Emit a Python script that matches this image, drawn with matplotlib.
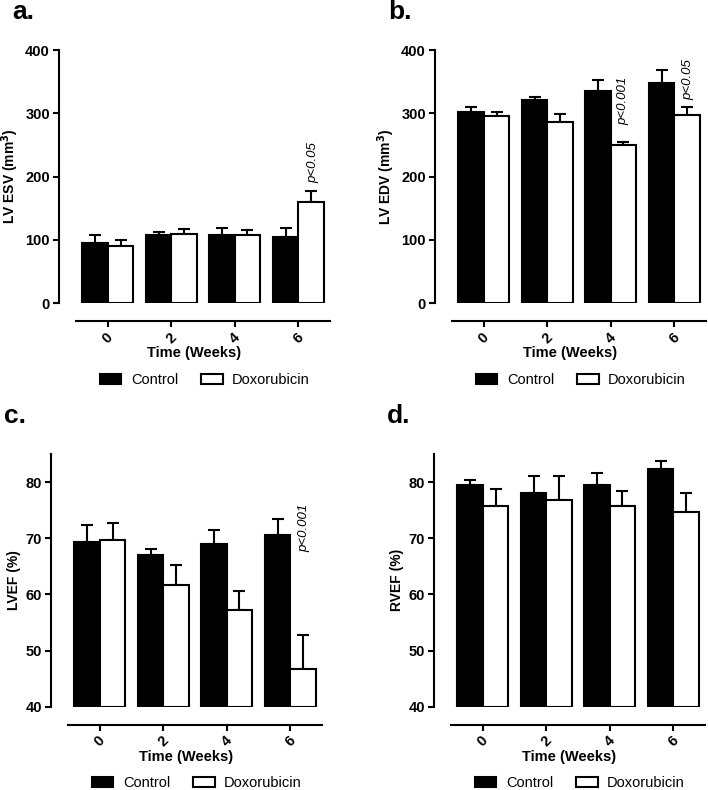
import numpy as np
import matplotlib.pyplot as plt

plt.rc('font', family=['Liberation Sans', 'DejaVu Sans'], size=10)

weeks = ['0', '2', '4', '6']
groups = ['Control', 'Doxorubicin']

esv_ctrl = [94.7, 107, 107, 105]
esv_ctrl_sem = [12.6, 5, 12, 14]
esv_dox = [89.5, 109.5, 107, 159]
esv_dox_sem = [10.5, 7.5, 8, 18]

edv_ctrl = [302, 321, 335, 348]
edv_ctrl_sem = [8, 5, 17, 21]
edv_dox = [296, 286, 250, 298]
edv_dox_sem = [5.6, 13.5, 5, 12]

lvef_ctrl = [69.3, 67.1, 68.9, 70.5]
lvef_ctrl_sem = [3.0, 0.9, 2.6, 3.0]
lvef_dox = [69.7, 61.7, 57.2, 46.8]
lvef_dox_sem = [3.0, 3.5, 3.4, 5.9]

rvef_ctrl = [79.4, 78.0, 79.4, 82.3]
rvef_ctrl_sem = [1.0, 3.0, 2.3, 1.4]
rvef_dox = [75.7, 76.8, 75.8, 74.7]
rvef_dox_sem = [3.1, 4.3, 2.6, 3.3]

fig = plt.figure(figsize=(7.08, 7.9), dpi=100)

W = 271 / 708
H_top = 253 / 790
H_bot = 252.7 / 790


def panel(rect, ctrl, csem, dox, dsem, ylim, ticks, ylabel, letter, notes, legend_y):
    ax = fig.add_axes(rect)
    x = np.arange(len(weeks))
    bw = 0.4
    ax.bar(x - bw / 2, np.array(ctrl) - ylim[0], bw, bottom=ylim[0], color='black',
           edgecolor='black', linewidth=1.5, label=groups[0], zorder=3)
    ax.bar(x + bw / 2, np.array(dox) - ylim[0], bw, bottom=ylim[0], color='white',
           edgecolor='black', linewidth=1.5, label=groups[1], zorder=3)
    z = np.zeros(len(weeks))
    ax.errorbar(x - bw / 2, ctrl, yerr=[z, csem], fmt='none', ecolor='black',
                elinewidth=1.5, capsize=4.5, capthick=1.5, zorder=2)
    ax.errorbar(x + bw / 2, dox, yerr=[z, dsem], fmt='none', ecolor='black',
                elinewidth=1.5, capsize=4.5, capthick=1.5, zorder=2)
    ax.set_xlim(-0.77, 3.5)
    ax.set_ylim(*ylim)
    ax.set_yticks(ticks)
    ax.set_xticks(x)
    ax.set_xticklabels(weeks)
    for s in ['top', 'right']:
        ax.spines[s].set_visible(False)
    ax.spines['left'].set_linewidth(1.5)
    ax.spines['bottom'].set_linewidth(1.5)
    ax.spines['bottom'].set_position(('outward', 13))
    ax.spines['bottom'].set_bounds(-0.5, 3.5)
    ax.tick_params(axis='both', width=1.5, length=4.5, pad=2)
    plt.setp(ax.get_xticklabels(), rotation=45, ha='center', va='top',
             fontweight='bold', fontsize=10.5)
    plt.setp(ax.get_yticklabels(), fontweight='bold', fontsize=10.5)
    ax.set_xlabel('Time (Weeks)', fontweight='bold', fontsize=10.5, labelpad=0)
    ax.set_ylabel(ylabel, fontweight='bold', fontsize=10, labelpad=3)
    for nx, ny, txt in notes:
        ax.text(nx, ny, txt, rotation=90, style='italic', fontsize=9.5,
                ha='center', va='bottom')
    pos = ax.get_position()
    fig.text(pos.x0 - 47 / 708, pos.y1 + (32 if letter in 'ab' else 38) / 790, letter,
             fontsize=19, fontweight='bold', va='center', ha='left')
    ax.legend(loc='center', bbox_to_anchor=(pos.x0 + 146 / 708, legend_y),
              bbox_transform=fig.transFigure, ncol=2, frameon=False,
              handlelength=1.45, handleheight=0.75, handletextpad=0.65,
              columnspacing=1.6, fontsize=10.5)
    return ax


panel([59 / 708, 1 - 303 / 790, W, H_top], esv_ctrl, esv_ctrl_sem, esv_dox, esv_dox_sem,
      (0, 400), [0, 100, 200, 300, 400], 'LV ESV (mm$^\\mathbf{3}$)', 'a.',
      [(3.23, 190, 'p<0.05')], 1 - 380 / 790)
panel([435 / 708, 1 - 303 / 790, W, H_top], edv_ctrl, edv_ctrl_sem, edv_dox, edv_dox_sem,
      (0, 400), [0, 100, 200, 300, 400], 'LV EDV (mm$^\\mathbf{3}$)', 'b.',
      [(2.19, 281, 'p<0.001'), (3.22, 321, 'p<0.05')], 1 - 380 / 790)
panel([51 / 708, 1 - 706.7 / 790, W, H_bot], lvef_ctrl, lvef_ctrl_sem, lvef_dox, lvef_dox_sem,
      (40, 85), [40, 50, 60, 70, 80], 'LVEF (%)', 'c.',
      [(3.22, 67.5, 'p<0.001')], 1 - 783 / 790)
panel([434 / 708, 1 - 706.7 / 790, W, H_bot], rvef_ctrl, rvef_ctrl_sem, rvef_dox, rvef_dox_sem,
      (40, 85), [40, 50, 60, 70, 80], 'RVEF (%)', 'd.',
      [], 1 - 783 / 790)

plt.savefig('out.png', dpi=100)
